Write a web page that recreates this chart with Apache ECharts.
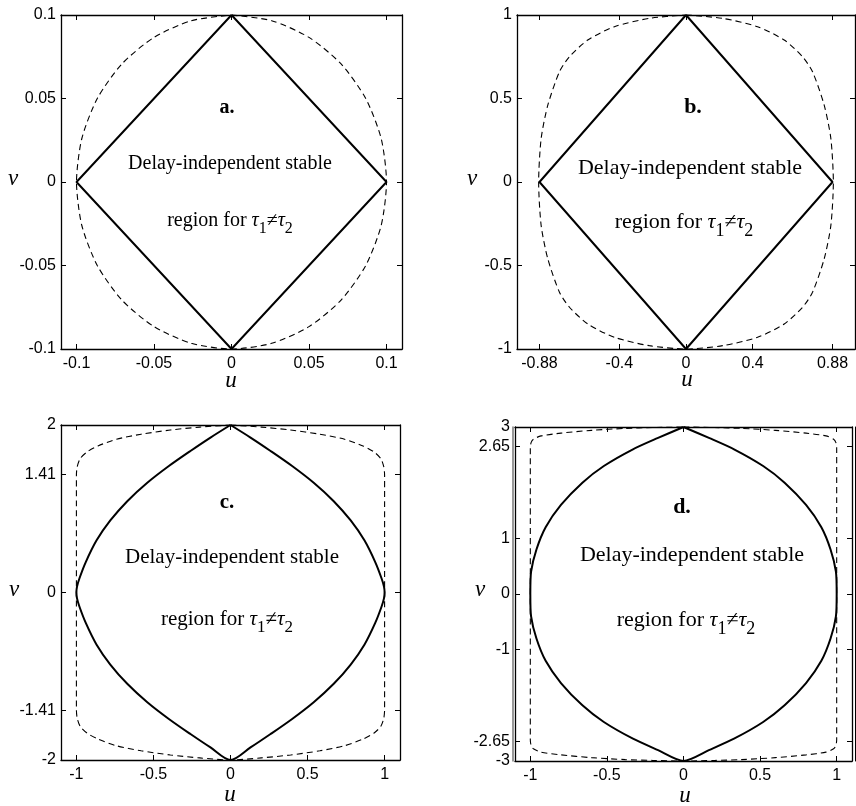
<!DOCTYPE html>
<html>
<head>
<meta charset="utf-8">
<script src="https://cdn.jsdelivr.net/npm/echarts@6.0.0/dist/echarts.min.js"></script>
<style>
html,body{margin:0;padding:0;background:#fff;}
#main{width:856px;height:806px;}
</style>
</head>
<body>
<div id="main"></div>
<script>
// panel a
var diamondA = [[0,0.1],[0.1,0],[0,-0.1],[-0.1,0],[0,0.1]];
var circleA = [[0,0.1],[0.0259,0.0966],[0.05,0.0866],[0.0707,0.0707],[0.0866,0.05],[0.0966,0.0259],[0.1,0],
	[0.0966,-0.0259],[0.0866,-0.05],[0.0707,-0.0707],[0.05,-0.0866],[0.0259,-0.0966],[0,-0.1],
	[-0.0259,-0.0966],[-0.05,-0.0866],[-0.0707,-0.0707],[-0.0866,-0.05],[-0.0966,-0.0259],[-0.1,0],
	[-0.0966,0.0259],[-0.0866,0.05],[-0.0707,0.0707],[-0.05,0.0866],[-0.0259,0.0966],[0,0.1]];
var xTicksA = [-0.1,-0.05,0,0.05,0.1];
var yTicksA = [-0.1,-0.05,0,0.05,0.1];

// panel b
var diamondB = [[0,1],[0.88,0],[0,-1],[-0.88,0],[0,1]];
var dashB = [[0,1],[0.22,0.98],[0.43,0.93],[0.59,0.85],[0.70,0.75],[0.76,0.66],[0.83,0.46],[0.87,0.26],[0.885,0],
	[0.87,-0.26],[0.83,-0.46],[0.76,-0.66],[0.70,-0.75],[0.59,-0.85],[0.43,-0.93],[0.22,-0.98],[0,-1],
	[-0.22,-0.98],[-0.43,-0.93],[-0.59,-0.85],[-0.70,-0.75],[-0.76,-0.66],[-0.83,-0.46],[-0.87,-0.26],[-0.885,0],
	[-0.87,0.26],[-0.83,0.46],[-0.76,0.66],[-0.70,0.75],[-0.59,0.85],[-0.43,0.93],[-0.22,0.98],[0,1]];
var xTicksB = [-0.88,-0.4,0,0.4,0.88];
var yTicksB = [-1,-0.5,0,0.5,1];

// panel c
var lensC = [[0,2],[0.13,1.85],[0.26,1.69],[0.40,1.51],[0.54,1.31],[0.67,1.09],[0.78,0.86],[0.87,0.62],[0.94,0.36],[0.98,0.17],[0.996,0.07],[1,0],
	[0.996,-0.07],[0.98,-0.17],[0.94,-0.36],[0.87,-0.62],[0.78,-0.86],[0.67,-1.09],[0.54,-1.31],[0.40,-1.51],[0.26,-1.69],[0.13,-1.85],[0,-2],
	[-0.13,-1.85],[-0.26,-1.69],[-0.40,-1.51],[-0.54,-1.31],[-0.67,-1.09],[-0.78,-0.86],[-0.87,-0.62],[-0.94,-0.36],[-0.98,-0.17],[-0.996,-0.07],[-1,0],
	[-0.996,0.07],[-0.98,0.17],[-0.94,0.36],[-0.87,0.62],[-0.78,0.86],[-0.67,1.09],[-0.54,1.31],[-0.40,1.51],[-0.26,1.69],[-0.13,1.85],[0,2]];
var dashC = [[0,2],[0.2,1.975],[0.39,1.94],[0.58,1.89],[0.74,1.83],[0.86,1.75],[0.93,1.68],[0.975,1.60],[0.995,1.50],[1,1.40],
	[1,-1.40],[0.995,-1.50],[0.975,-1.60],[0.93,-1.68],[0.86,-1.75],[0.74,-1.83],[0.58,-1.89],[0.39,-1.94],[0.2,-1.975],[0,-2],
	[-0.2,-1.975],[-0.39,-1.94],[-0.58,-1.89],[-0.74,-1.83],[-0.86,-1.75],[-0.93,-1.68],[-0.975,-1.60],[-0.995,-1.50],[-1,-1.40],
	[-1,1.40],[-0.995,1.50],[-0.975,1.60],[-0.93,1.68],[-0.86,1.75],[-0.74,1.83],[-0.58,1.89],[-0.39,1.94],[-0.2,1.975],[0,2]];
var xTicksC = [-1,-0.5,0,0.5,1];
var yTicksC = [-2,-1.41,0,1.41,2];

// panel d
var lensD = [[0,3],[0.17,2.8],[0.33,2.6],[0.52,2.3],[0.66,2.0],[0.80,1.6],[0.90,1.2],[0.96,0.8],[0.995,0.4],[1,0],
	[0.995,-0.4],[0.96,-0.8],[0.90,-1.2],[0.80,-1.6],[0.66,-2.0],[0.52,-2.3],[0.33,-2.6],[0.17,-2.8],[0,-3],
	[-0.17,-2.8],[-0.33,-2.6],[-0.52,-2.3],[-0.66,-2.0],[-0.80,-1.6],[-0.90,-1.2],[-0.96,-0.8],[-0.995,-0.4],[-1,0],
	[-0.995,0.4],[-0.96,0.8],[-0.90,1.2],[-0.80,1.6],[-0.66,2.0],[-0.52,2.3],[-0.33,2.6],[-0.17,2.8],[0,3]];
var dashD = [[0,3],[0.2,2.99],[0.38,2.975],[0.60,2.94],[0.80,2.89],[0.93,2.84],[0.98,2.78],[0.995,2.72],[1,2.62],
	[1,-2.62],[0.995,-2.72],[0.98,-2.78],[0.93,-2.84],[0.80,-2.89],[0.60,-2.94],[0.38,-2.975],[0.2,-2.99],[0,-3],
	[-0.2,-2.99],[-0.38,-2.975],[-0.60,-2.94],[-0.80,-2.89],[-0.93,-2.84],[-0.98,-2.78],[-0.995,-2.72],[-1,-2.62],
	[-1,2.62],[-0.995,2.72],[-0.98,2.78],[-0.93,2.84],[-0.80,2.89],[-0.60,2.94],[-0.38,2.975],[-0.2,2.99],[0,3]];
var xTicksD = [-1,-0.5,0,0.5,1];
var yTicksD = [-3,-2.65,-1,0,1,2.65,3];

var panels = [
	{ grid: {left:61, top:15, width:341, height:334}, xr:[-0.11,0.11], yr:[-0.1,0.1], xt:xTicksA, yt:yTicksA, solid:diamondA, dash:circleA, smooth:false },
	{ grid: {left:517, top:15, width:338, height:334}, xr:[-1.015,1.015], yr:[-1,1], xt:xTicksB, yt:yTicksB, solid:diamondB, dash:dashB, smooth:false },
	{ grid: {left:61, top:425, width:339, height:335}, xr:[-1.1,1.1], yr:[-2,2], xt:xTicksC, yt:yTicksC, solid:lensC, dash:dashC, smooth:0.3 },
	{ grid: {left:515, top:427, width:337, height:334}, xr:[-1.1,1.1], yr:[-3,3], xt:xTicksD, yt:yTicksD, solid:lensD, dash:dashD, smooth:0.25, double:true }
];

var lineAxis = {onZero:false, lineStyle:{color:'#000', width:1.3}};
var labelFont = {color:'#000', fontFamily:'Liberation Sans', fontSize:16};

var grids = [], xAxes = [], yAxes = [], series = [];
panels.forEach(function(p, i) {
	var g = p.grid;
	g.outerBoundsMode = 'none';
	grids.push(g);
	var tick = {inside:true, length:5, customValues:p.xt, lineStyle:{color:'#000'}};
	var ytick = {inside:true, length:5, customValues:p.yt, lineStyle:{color:'#000'}};
	// bottom + top (box)
	xAxes.push({gridIndex:i, type:'value', position:'bottom', min:p.xr[0], max:p.xr[1],
		axisLine:lineAxis, splitLine:{show:false}, axisTick:tick,
		axisLabel:Object.assign({customValues:p.xt, margin:7}, labelFont)});
	xAxes.push({gridIndex:i, type:'value', position:'top', min:p.xr[0], max:p.xr[1],
		axisLine:lineAxis, splitLine:{show:false}, axisTick:tick, axisLabel:{show:false}});
	// left + right
	yAxes.push({gridIndex:i, type:'value', position:'left', min:p.yr[0], max:p.yr[1],
		axisLine:lineAxis, splitLine:{show:false}, axisTick:ytick,
		axisLabel:Object.assign({customValues:p.yt, margin:5}, labelFont)});
	yAxes.push({gridIndex:i, type:'value', position:'right', min:p.yr[0], max:p.yr[1],
		axisLine:lineAxis, splitLine:{show:false}, axisTick:ytick, axisLabel:{show:false}});
	if (p.double) {
		// second border line on both sides, as in the scan
		yAxes.push({gridIndex:i, type:'value', position:'left', offset:2, min:p.yr[0], max:p.yr[1],
			axisLine:{onZero:false, lineStyle:{color:'#777', width:1.5}}, splitLine:{show:false},
			axisTick:{show:false}, axisLabel:{show:false}});
		yAxes.push({gridIndex:i, type:'value', position:'right', offset:3, min:p.yr[0], max:p.yr[1],
			axisLine:{onZero:false, lineStyle:{color:'#000', width:1}}, splitLine:{show:false},
			axisTick:{show:false}, axisLabel:{show:false}});
	}
	var yi = 0;
	for (var k = 0; k < i; k++) { yi += panels[k].double ? 4 : 2; }
	series.push({type:'line', xAxisIndex:i*2, yAxisIndex:yi, data:p.dash, symbol:'none',
		smooth:0.25, clip:false, lineStyle:{color:'#000', width:1.1, type:[6,4]}});
	series.push({type:'line', xAxisIndex:i*2, yAxisIndex:yi, data:p.solid, symbol:'none',
		smooth:p.smooth, clip:false, lineStyle:{color:'#000', width:2}});
});

// text labels
var serif = "'Liberation Serif', 'Times New Roman', serif";
function txt(x, y, text, font, rich) {
	return {type:'text', x:x, y:y, style:{text:text, font:font, fill:'#000', align:'center', verticalAlign:'middle', rich:rich}};
}
function tauRich(size) {
	return {
		t:{fontFamily:serif, fontStyle:'italic', fontSize:size},
		s:{fontFamily:serif, fontSize:Math.round(size * 0.8), padding:[Math.round(size * 0.8), 0, 0, 0]},
		n:{fontFamily:serif, fontSize:size}
	};
}
var labels = [
	{tag:'a.', tx:227, ty:108, size:20, dx:230, dy:164, rx:230, ry:221, vx:13, vy:182, ux:231, uy:384},
	{tag:'b.', tx:693, ty:107, size:22, dx:690, dy:168, rx:684, ry:222, vx:472, vy:182, ux:687, uy:383},
	{tag:'c.', tx:227, ty:503, size:21, dx:232, dy:557, rx:227, ry:619, vx:14, vy:593, ux:230, uy:798},
	{tag:'d.', tx:682, ty:507, size:22, dx:692, dy:555, rx:686, ry:620, vx:480, vy:593, ux:685, uy:799}
];
var graphics = [];
labels.forEach(function(l) {
	graphics.push(txt(l.tx, l.ty, l.tag, 'bold ' + l.size + 'px ' + serif));
	graphics.push(txt(l.dx, l.dy, 'Delay-independent stable', l.size + 'px ' + serif));
	graphics.push(txt(l.rx, l.ry, 'region for {t|τ}{s|1}{n|≠}{t|τ}{s|2}', l.size + 'px ' + serif, tauRich(l.size)));
	graphics.push(txt(l.vx, l.vy - 3, 'v', 'italic 23px ' + serif));
	graphics.push(txt(l.ux, l.uy - 3, 'u', 'italic 23px ' + serif));
});

var option = {
	animation:false,
	backgroundColor:'#fff',
	grid:grids,
	xAxis:xAxes,
	yAxis:yAxes,
	series:series,
	graphic:graphics
};

var myChart = echarts.init(document.getElementById('main'), null, {renderer:'canvas'});
myChart.setOption(option, true);
</script>
</body>
</html>
